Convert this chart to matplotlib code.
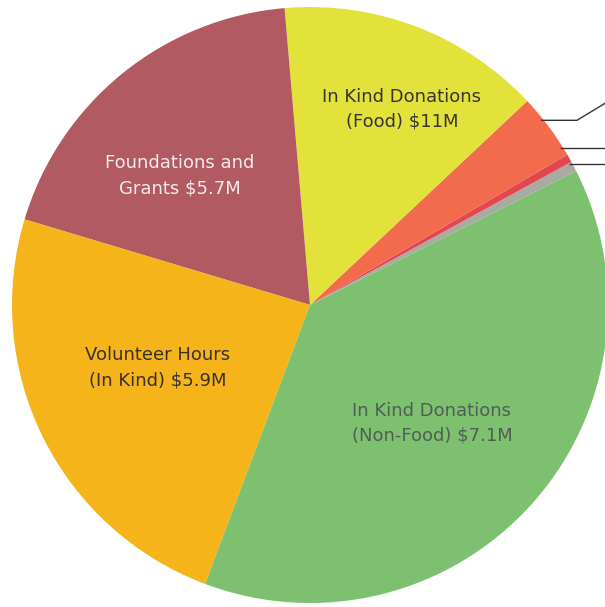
import numpy as np
import matplotlib
matplotlib.use('Agg')
import matplotlib.pyplot as plt

# slice sizes (degrees of the circle), counter-clockwise
# starting from the thin grey slice on the right
slices = ['Other (grey)', 'Other (red)', 'Other (orange)',
          'In Kind Donations (Food)', 'Foundations and Grants',
          'Volunteer Hours (In Kind)', 'In Kind Donations (Non-Food)']
sizes = [2.0, 1.6, 12.9, 51.7, 68.4, 86.1, 137.3]
colors = ['#a9aaa2', '#e2474f', '#f26b4c', '#e2e23a',
          '#b25a62', '#f4b41a', '#7dc070']

labels = ['', '', '',
          'In Kind Donations\n(Food) $11M',
          'Foundations and\nGrants $5.7M',
          'Volunteer Hours\n(In Kind) $5.9M',
          'In Kind Donations\n(Non-Food) $7.1M']
label_colors = ['k', 'k', 'k', '#3a3535', '#f3eaea', '#3a3030', '#4f5f52']
# label centres in pixels (x, y from top)
label_pos = [None, None, None, (402, 109), (180, 176), (158, 368), (432, 423)]

W, H = 605, 607
cx, cy, R = 310, H - 305, 298
start = 26.7

fig = plt.figure(figsize=(W / 100, H / 100), dpi=100)
ax = fig.add_axes([0, 0, 1, 1])
wedges, _ = ax.pie(sizes, colors=colors, startangle=start, counterclock=True,
                   center=(cx, cy), radius=R, frame=True,
                   wedgeprops=dict(linewidth=0))

for lab, col, pos in zip(labels, label_colors, label_pos):
    if pos is None:
        continue
    ax.text(pos[0], H - pos[1], lab, ha='center', va='center',
            fontsize=13, color=col, linespacing=1.5,
            family='DejaVu Sans')

# leader lines for the three small slices (they run off the cropped page)
anchor_deg = [28.3, 31.8, 38.3]
for a_deg, elbow in zip(anchor_deg, [False, False, True]):
    a = np.deg2rad(a_deg)
    x0, y0 = cx + R * np.cos(a) - 3, cy + R * np.sin(a)
    if elbow:
        xs = [x0, 577, 610]
        ys = [y0, y0, y0 + 20]
    else:
        xs = [x0, 610]
        ys = [y0, y0]
    ax.plot(xs, ys, color='#333333', lw=1.0, solid_capstyle='butt')

ax.set_xlim(0, W)
ax.set_ylim(0, H)
ax.set_aspect('equal')
ax.axis('off')

fig.savefig('out.png', dpi=100, facecolor='white')
